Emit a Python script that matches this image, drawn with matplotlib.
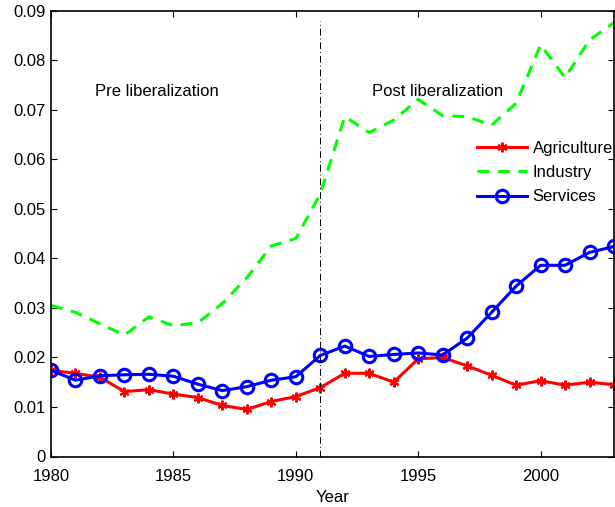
import matplotlib
matplotlib.use("Agg")
import matplotlib.pyplot as plt

years = list(range(1980, 2004))
agriculture = [0.0174, 0.0168, 0.0160, 0.0131, 0.0135, 0.0126, 0.0119, 0.0103,
               0.0095, 0.0111, 0.0121, 0.0139, 0.0168, 0.0168, 0.0150, 0.0197,
               0.0200, 0.0183, 0.0164, 0.0144, 0.0153, 0.0144, 0.0150, 0.0145]
industry = [0.0305, 0.0291, 0.0268, 0.0245, 0.0282, 0.0264, 0.0270, 0.0309,
            0.0361, 0.0425, 0.0440, 0.0530, 0.0686, 0.0654, 0.0679, 0.0721,
            0.0688, 0.0686, 0.0669, 0.0713, 0.0831, 0.0765, 0.0841, 0.0876]
services = [0.0174, 0.0154, 0.0163, 0.0165, 0.0166, 0.0162, 0.0146, 0.0133,
            0.0141, 0.0154, 0.0161, 0.0204, 0.0223, 0.0202, 0.0206, 0.0209,
            0.0205, 0.0239, 0.0291, 0.0344, 0.0386, 0.0386, 0.0412, 0.0424]
series_names = ["Agriculture", "Industry", "Services"]
xticks = [1980, 1985, 1990, 1995, 2000]
yticks = [0, 0.01, 0.02, 0.03, 0.04, 0.05, 0.06, 0.07, 0.08, 0.09]
ytick_labels = ["0", "0.01", "0.02", "0.03", "0.04", "0.05", "0.06", "0.07", "0.08", "0.09"]
liberalization_year = 1991

plt.rcParams['font.family'] = ['Liberation Sans', 'DejaVu Sans']
fs = 12

fig = plt.figure(figsize=(6.15, 5.07), dpi=100)
ax = fig.add_axes([51/615, 1 - 456.5/507, 563/615, (456.5 - 10.7)/507])

ax.plot(years, agriculture, color='#ff0000', lw=2.2, marker=(6, 2, 0), ms=7, mew=1.5,
        label=series_names[0])
ax.plot(years, industry, color='#00ff00', lw=2.2, dashes=(3.9, 2.8), label=series_names[1])
ax.plot(years, services, color='#0000ff', lw=2.2, marker='o', ms=9, mew=2.2,
        mfc='none', label=series_names[2])

ax.plot([liberalization_year, liberalization_year], [0, 0.088], color='black', lw=0.7,
        dashes=(7, 3, 1, 3))

ax.text(1981.8, 0.0737, "Pre liberalization", fontsize=fs, va='center', ha='left')
ax.text(1993.1, 0.0737, "Post liberalization", fontsize=fs, va='center', ha='left')

ax.set_xlim(1980, 2003)
ax.set_ylim(0, 0.09)
ax.set_xticks(xticks)
ax.set_xticklabels([str(x) for x in xticks])
ax.set_yticks(yticks)
ax.set_yticklabels(ytick_labels)
ax.tick_params(direction='in', top=True, right=True, length=4, width=0.8,
               labelsize=fs, pad=4)
ax.tick_params(axis='x', pad=9)
ax.set_xlabel("Year", fontsize=fs, labelpad=4)
for s in ax.spines.values():
    s.set_linewidth(1.2)

leg = ax.legend(loc='upper left', bbox_to_anchor=(470/615, 1 - 134/507),
                bbox_transform=fig.transFigure, frameon=False, fontsize=fs,
                handlelength=3.0, handletextpad=0.36, numpoints=1,
                borderaxespad=0, labelspacing=0.56)

fig.savefig("out.png", dpi=100)
